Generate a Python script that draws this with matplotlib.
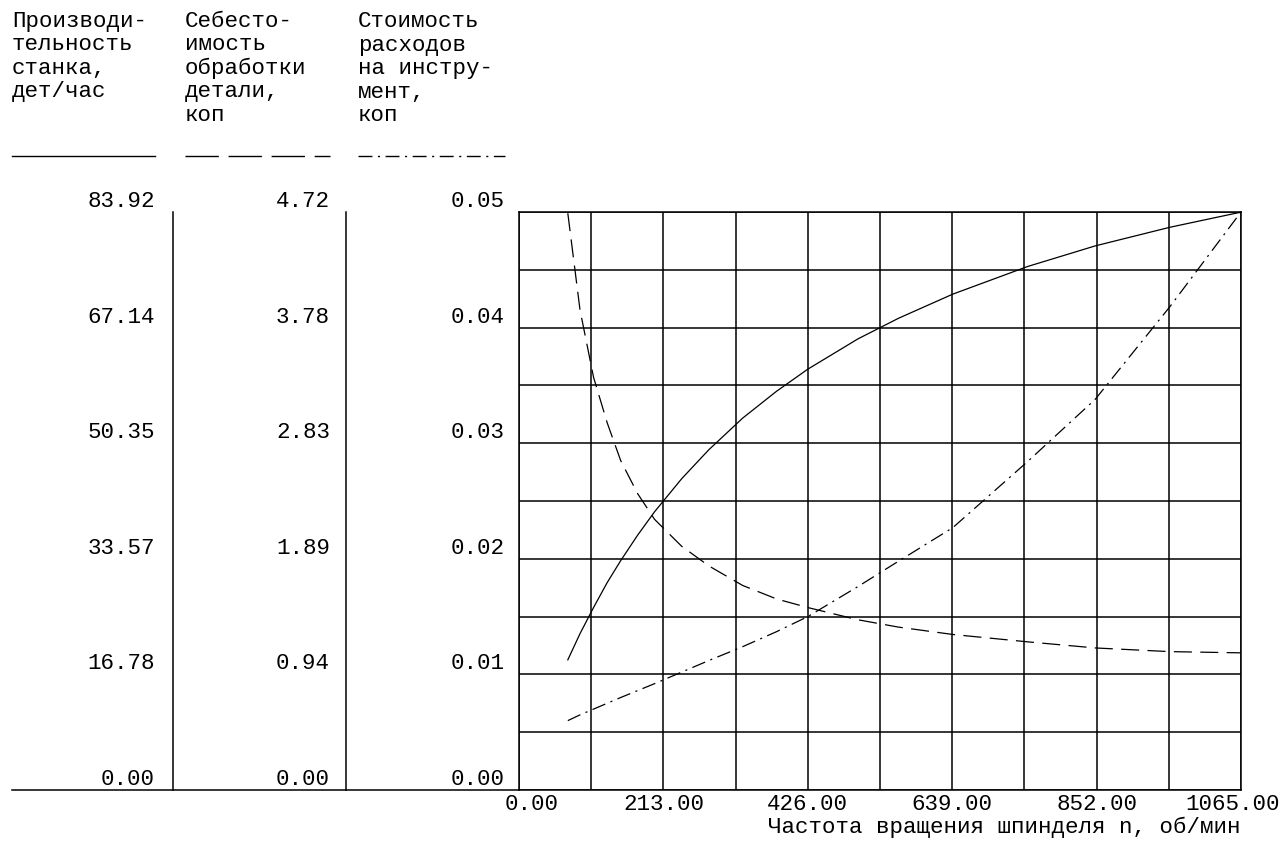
import numpy as np
import matplotlib
matplotlib.use('Agg')
import matplotlib.pyplot as plt
import matplotlib.transforms as mtransforms
from matplotlib.lines import Line2D

plt.rcParams['font.family'] = ['Liberation Mono', 'DejaVu Sans Mono']
plt.rcParams['lines.scale_dashes'] = False

# Данные
n = [72, 90, 110, 130, 150, 175, 200, 240, 280, 330, 380, 426, 500, 560, 640, 750, 850, 960, 1065]
productivity = [18.9, 22.7, 26.5, 30.1, 33.3, 37.0, 40.4, 45.2, 49.4, 54.0, 57.9, 61.1,
                65.5, 68.5, 72.0, 76.0, 79.0, 81.7, 83.9]
cost = [4.71, 3.92, 3.37, 3.00, 2.69, 2.42, 2.21, 1.99, 1.83, 1.67, 1.56, 1.49,
        1.39, 1.33, 1.27, 1.21, 1.16, 1.13, 1.12]
tool_cost = [0.0060, 0.0065, 0.0070, 0.0075, 0.0080, 0.0086, 0.0092, 0.0102, 0.0112, 0.0124,
             0.0137, 0.0150, 0.0176, 0.0198, 0.0227, 0.0284, 0.0338, 0.0418, 0.0500]

prod_max, cost_max, tool_max = 83.92, 4.72, 0.05
n_max = 1065
x_ticks = [0, 213, 426, 639, 852, 1065]

headers = [
    ['Производи-', 'тельность', 'станка,', 'дет/час'],
    ['Себесто-', 'имость', 'обработки', 'детали,', 'коп'],
    ['Стоимость', 'расходов', 'на инстру-', 'мент,', 'коп'],
]
xlabel = 'Частота вращения шпинделя n, об/мин'

W, H = 1287, 847
FS = 16.2


def fx(x):
    return x / W


def fy(y):
    return 1 - y / H


fig = plt.figure(figsize=(W / 100, H / 100), dpi=100)

ax = fig.add_axes([fx(519), fy(790), 722 / W, 578 / H])
ax2 = ax.twinx()
ax3 = ax.twinx()

ax.set_xlim(0, n_max)
ax.set_ylim(0, prod_max)
ax2.set_ylim(0, cost_max)
ax3.set_ylim(0, tool_max)

# сетка 10 x 10
ax.set_xticks(np.linspace(0, n_max, 11))
ax.set_xticklabels([])
ax.set_yticks(np.linspace(0, prod_max, 11))
ax.set_yticklabels([])
ax.grid(True, color='black', linewidth=1.1)
ax.tick_params(length=0)
for a in (ax2, ax3):
    a.set_yticks([])
    a.axis('off')
for s in ax.spines.values():
    s.set_linewidth(1.1)

# подписи оси X (крайние немного сдвинуты внутрь, как в оригинале)
xtrans = mtransforms.blended_transform_factory(ax.transData, ax.transAxes)
for i, v in enumerate(x_ticks):
    dx = 13 if i == 0 else (-8 if i == len(x_ticks) - 1 else 0)
    t = mtransforms.offset_copy(xtrans, fig=fig, x=dx, y=-4, units='dots')
    ax.text(v, 0, '%.2f' % v, transform=t, fontsize=FS, ha='center', va='top', clip_on=False)

# кривые
ax.plot(n, productivity, color='black', linewidth=0.9, clip_on=False)
ax2.plot(n, cost, color='black', linewidth=0.9, dashes=(13, 6), clip_on=False)
ax3.plot(n, tool_cost, color='black', linewidth=0.9, dashes=(10, 4, 1.5, 4), clip_on=False)

# заголовки столбцов
for col_x, lines in zip([12, 185, 358], headers):
    for i, line in enumerate(lines):
        fig.text(fx(col_x), fy(27 + 23.5 * i), line, fontsize=FS, va='baseline', ha='left')

# образцы линий
fig.add_artist(Line2D([fx(12), fx(155)], [fy(156), fy(156)], color='black', linewidth=1.0))
fig.add_artist(Line2D([fx(185), fx(330)], [fy(156), fy(156)], color='black', linewidth=1.0,
                      dashes=(24, 7)))
fig.add_artist(Line2D([fx(358), fx(505)], [fy(156), fy(156)], color='black', linewidth=1.0,
                      dashes=(10, 4, 1.5, 4)))

# шкалы слева
scales = [(155, ax, prod_max), (330, ax2, cost_max), (505, ax3, tool_max)]
for right_x, a, vmax in scales:
    trans = mtransforms.blended_transform_factory(fig.transFigure, a.transData)
    trans = mtransforms.offset_copy(trans, fig=fig, x=0, y=5, units='dots')
    for v in np.linspace(0, vmax, 6):
        fig.text(fx(right_x), v, '%.2f' % v, transform=trans, fontsize=FS,
                 ha='right', va='baseline')

# вертикальные разделители и базовая линия
for vx in [173, 346]:
    fig.add_artist(Line2D([fx(vx), fx(vx)], [fy(212), fy(790)], color='black', linewidth=1.1))
fig.add_artist(Line2D([fx(12), fx(519)], [fy(790), fy(790)], color='black', linewidth=1.1))

fig.text(fx(1240), fy(833), xlabel, fontsize=FS, ha='right', va='baseline')

fig.savefig('out.png', dpi=100)
